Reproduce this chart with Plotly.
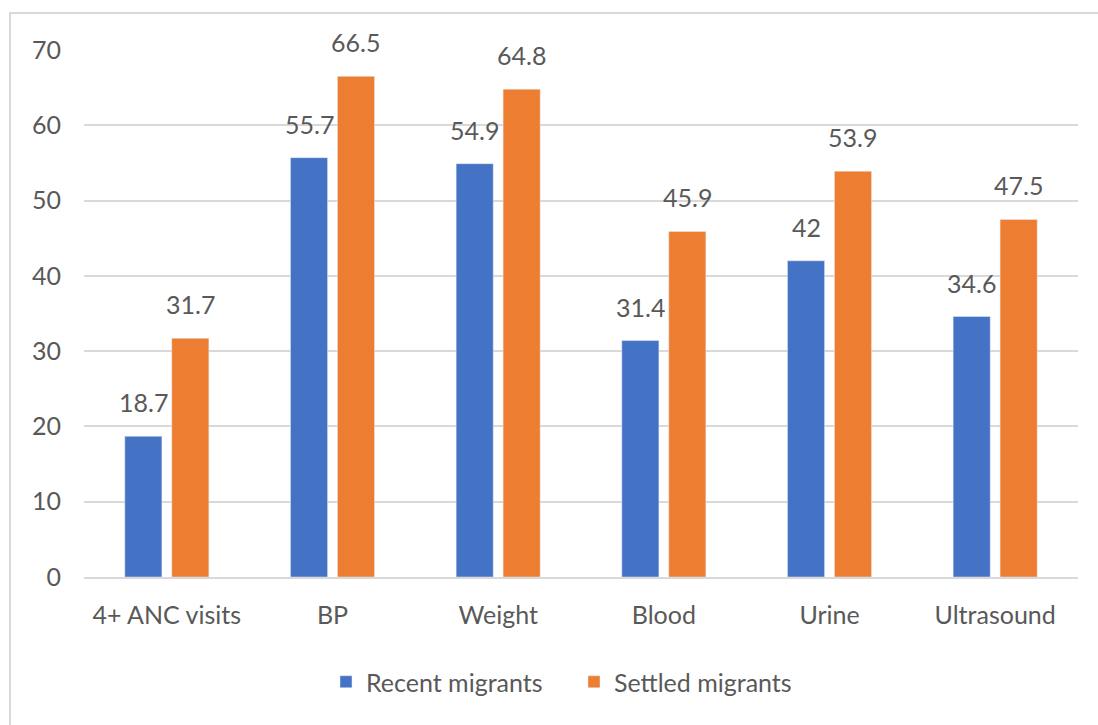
import plotly.graph_objects as go

categories = ["4+ ANC visits", "BP", "Weight", "Blood", "Urine", "Ultrasound"]
recent = [18.7, 55.7, 54.9, 31.4, 42, 34.6]
settled = [31.7, 66.5, 64.8, 45.9, 53.9, 47.5]
series_names = ["Recent migrants", "Settled migrants"]
y_ticks = [0, 10, 20, 30, 40, 50, 60, 70]

BLUE = "#4472C4"
ORANGE = "#ED7D31"
TXT = "#595959"
GRID = "#D9D9D9"
FONT = "Lato"
FS = 25

W, H = 1098, 725
ML, MR, MT, MB = 84, 20, 50, 148
BARGAP = 0.433
BARGROUPGAP = 0.21

fig = go.Figure()
fig.add_trace(go.Bar(x=categories, y=recent, name=series_names[0], marker_color=BLUE))
fig.add_trace(go.Bar(x=categories, y=settled, name=series_names[1], marker_color=ORANGE))

plot_w = W - ML - MR
plot_h = H - MT - MB
cat_w = plot_w / len(categories)
slot = cat_w * (1 - BARGAP) / 2

annotations = []
for vals, sh in ((recent, -slot / 2), (settled, slot / 2)):
    for c, v in zip(categories, vals):
        annotations.append(dict(
            x=c, y=v, xref="x", yref="y", text=f"{v:g}", showarrow=False,
            xshift=sh, yanchor="bottom", yshift=17,
            font=dict(family=FONT, size=FS, color=TXT)))

fig.update_layout(
    width=W, height=H,
    margin=dict(l=ML, r=MR, t=MT, b=MB),
    paper_bgcolor="white", plot_bgcolor="white",
    barmode="group", bargap=BARGAP, bargroupgap=BARGROUPGAP,
    font=dict(family=FONT, size=FS, color=TXT),
    xaxis=dict(showline=True, linecolor=GRID, linewidth=2, showgrid=False,
               ticks="", ticklabelstandoff=15,
               tickfont=dict(family=FONT, size=FS, color=TXT)),
    yaxis=dict(range=[0, 70], tickvals=y_ticks, showgrid=True, gridcolor=GRID,
               gridwidth=2, zeroline=False, showline=False, ticks="",
               ticklabelstandoff=22,
               tickfont=dict(family=FONT, size=FS, color=TXT)),
    legend=dict(orientation="h", x=(343 - 17 - ML) / plot_w, xanchor="left",
                y=-(682 - (H - MB)) / plot_h, yanchor="middle",
                entrywidth=203, entrywidthmode="pixels",
                font=dict(family=FONT, size=FS, color=TXT), traceorder="normal"),
    annotations=annotations,
    shapes=[dict(type="rect", xref="paper", yref="paper",
                 x0=(10 - ML) / plot_w, x1=1.1,
                 y0=-0.5, y1=((H - MB) - 13) / plot_h,
                 line=dict(color=GRID, width=2), layer="below")],
)

fig.write_html("out.html")
